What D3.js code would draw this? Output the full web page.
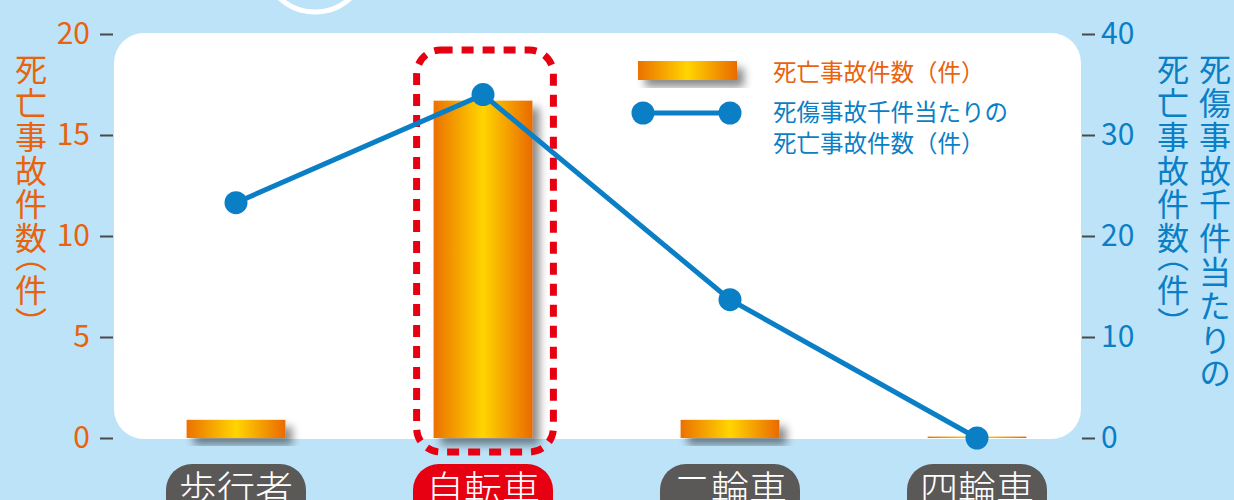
<!DOCTYPE html>
<html><head><meta charset="utf-8">
<script src="https://cdn.jsdelivr.net/npm/d3@7/dist/d3.min.js"></script>
<style>
html,body{margin:0;padding:0;background:#bde3f8;overflow:hidden;}
svg{display:block;font-family:"Noto Sans CJK JP","Noto Sans",sans-serif;}
</style></head>
<body>
<svg id="c" width="1234" height="500"></svg>
<script>
const categories = ["歩行者","自転車","二輪車","四輪車"];
const deaths = [0.9, 16.7, 0.9, 0.07];            // 死亡事故件数（件）
const deathsPer1000 = [23.3, 34.0, 13.7, 0.0];     // 死傷事故千件当たりの死亡事故件数（件）
const leftTicks = [0,5,10,15,20];
const rightTicks = [0,10,20,30,40];
const highlight = "自転車";
const leftTitle = "死亡事故件数（件）";
const rightTitle1 = "死傷事故千件当たりの";
const rightTitle2 = "死亡事故件数（件）";
const legendBar = "死亡事故件数（件）";
const legendLine = ["死傷事故千件当たりの","死亡事故件数（件）"];

const ORANGE = "#e9620c", BLUE = "#0a7fc6", RED = "#e60012", GRAY = "#5b5858";
const svg = d3.select("#c");
const y0 = 438, y1 = 34;

const x = d3.scaleBand().domain(categories).range([112.5, 1100.5]).paddingInner(0.6).paddingOuter(0.3);
const center = d => x(d) + x.bandwidth()/2;
const yL = d3.scaleLinear().domain([0,20]).range([y0,y1]);
const yR = d3.scaleLinear().domain([0,40]).range([y0,y1]);

const defs = svg.append("defs");
const g = defs.append("linearGradient").attr("id","barGrad").attr("x1","0").attr("x2","1").attr("y1","0").attr("y2","0");
g.append("stop").attr("offset","0%").attr("stop-color","#ec7100");
g.append("stop").attr("offset","50%").attr("stop-color","#ffd500");
g.append("stop").attr("offset","100%").attr("stop-color","#ea6a00");
const f = defs.append("filter").attr("id","shadow").attr("x","-20%").attr("y","-20%").attr("width","160%").attr("height","160%");
f.append("feDropShadow").attr("dx",7).attr("dy",7).attr("stdDeviation",4).attr("flood-color","#000").attr("flood-opacity",0.45);

// decorative ring at top
svg.append("circle").attr("cx",315).attr("cy",-40).attr("r",52).attr("fill","none").attr("stroke","#fff").attr("stroke-width",5);

// white panel
svg.append("rect").attr("x",114).attr("y",33).attr("width",1081-114).attr("height",439-33).attr("rx",30).attr("fill","#fff");

// left axis
const axL = svg.append("g").attr("transform","translate(113,0)")
  .call(d3.axisLeft(yL).tickValues(leftTicks).tickSize(13).tickPadding(10));
axL.select(".domain").remove();
axL.selectAll(".tick line").attr("stroke","#4a4a4a").attr("stroke-width",2);
axL.selectAll(".tick text").attr("fill",ORANGE).attr("font-size",30).attr("font-family","'Noto Sans CJK JP'");

// right axis
const axR = svg.append("g").attr("transform","translate(1082,0)")
  .call(d3.axisRight(yR).tickValues(rightTicks).tickSize(13).tickPadding(6));
axR.select(".domain").remove();
axR.selectAll(".tick line").attr("stroke","#4a4a4a").attr("stroke-width",2);
axR.selectAll(".tick text").attr("fill",BLUE).attr("font-size",30).attr("font-family","'Noto Sans CJK JP'");

// axis titles (vertical): parentheses set half-width like the reference
function vText(txt, cx, top, color){
  const t = svg.append("text").attr("x",cx).attr("y",top)
    .attr("fill",color).attr("font-size",32)
    .style("writing-mode","vertical-rl").style("letter-spacing","1.8px");
  const parts = txt.split(/([（）])/).filter(s => s.length);
  parts.forEach(p => {
    const s = t.append("tspan").text(p);
    if (p === "（" || p === "）") s.style("font-feature-settings","'vhal'");
  });
}
vText(leftTitle, 31, 53, ORANGE);
vText(rightTitle1, 1215, 53, BLUE);
vText(rightTitle2, 1173, 53, BLUE);

// bars
svg.append("g").selectAll("rect").data(categories).join("rect")
  .attr("x", d => x(d)).attr("width", x.bandwidth())
  .attr("y", (d,i) => yL(deaths[i])).attr("height", (d,i) => y0 - yL(deaths[i]))
  .attr("fill","url(#barGrad)")
  .attr("filter",(d,i) => deaths[i] > 0.5 ? "url(#shadow)" : null);

// highlight dashed box
const hx = x(highlight);
svg.append("rect").attr("x", hx - 17).attr("y", 50).attr("width", x.bandwidth() + 38).attr("height", 452 - 50)
  .attr("rx", 24).attr("fill","none").attr("stroke",RED).attr("stroke-width",7).attr("stroke-dasharray","12 9");

// line
const line = d3.line().x((d,i) => center(categories[i])).y(d => yR(d));
svg.append("path").datum(deathsPer1000).attr("d", line).attr("fill","none").attr("stroke",BLUE).attr("stroke-width",5);
svg.append("g").selectAll("circle").data(deathsPer1000).join("circle")
  .attr("cx",(d,i) => center(categories[i])).attr("cy", d => yR(d)).attr("r",11.5).attr("fill",BLUE);

// category pills
const pills = svg.append("g").selectAll("g").data(categories).join("g")
  .attr("transform", d => `translate(${center(d)},0)`);
pills.append("rect").attr("x",-70).attr("y",464).attr("width",140).attr("height",60).attr("rx",26)
  .attr("fill", d => d === highlight ? RED : GRAY);
pills.append("text").attr("y",503).attr("text-anchor","middle").attr("fill","#fff")
  .attr("font-size",38).attr("font-weight",300).text(d => d);

// legend
const lg = svg.append("g");
lg.append("rect").attr("x",638).attr("y",61).attr("width",99).attr("height",19).attr("fill","url(#barGrad)").attr("filter","url(#shadow)");
lg.append("text").attr("x",773).attr("y",81).attr("fill",ORANGE).attr("font-size",23.5).text(legendBar);
lg.append("line").attr("x1",643).attr("x2",730).attr("y1",113).attr("y2",113).attr("stroke",BLUE).attr("stroke-width",5);
lg.selectAll("circle").data([643,730]).join("circle").attr("cx",d=>d).attr("cy",113).attr("r",11.5).attr("fill",BLUE);
lg.selectAll("text.l2").data(legendLine).join("text").attr("class","l2")
  .attr("x",773).attr("y",(d,i)=>121 + i*31).attr("fill",BLUE).attr("font-size",23.5).text(d=>d);
</script>
</body></html>
